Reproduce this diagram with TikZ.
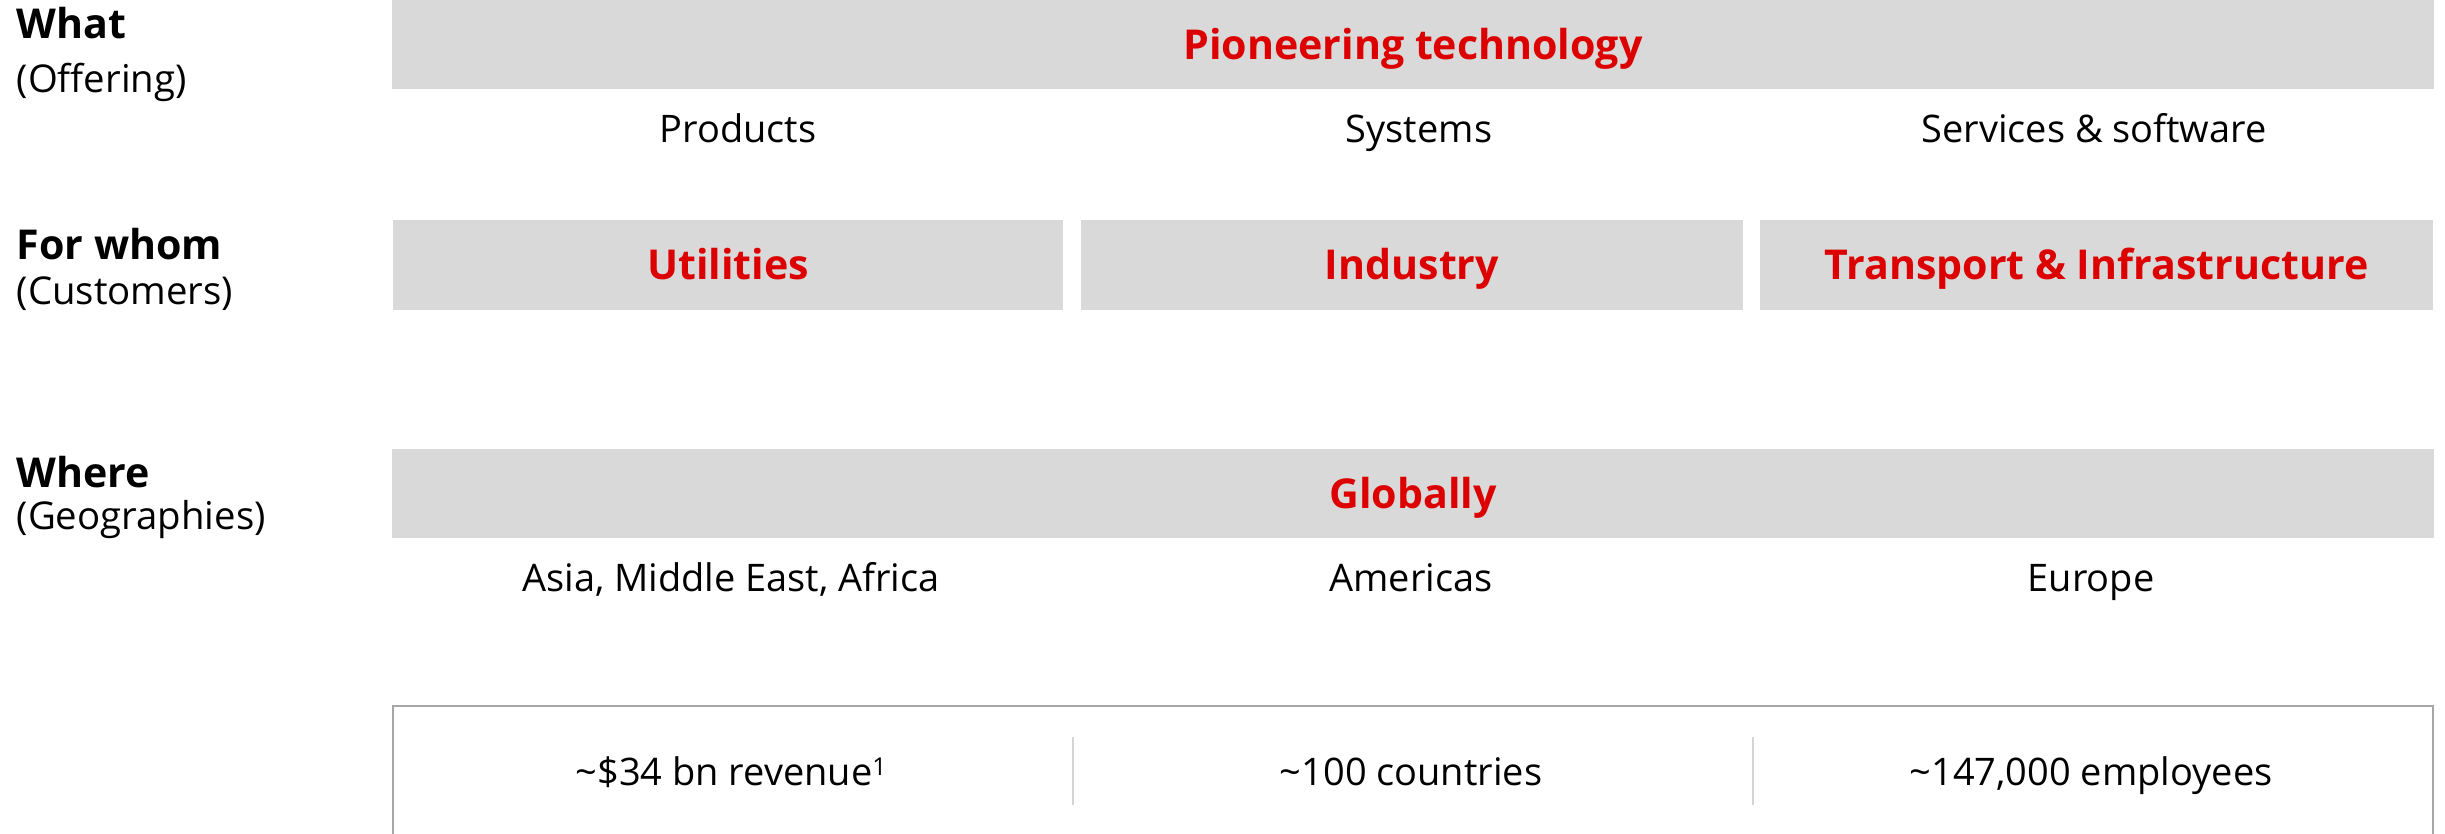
\documentclass[tikz,border=0pt]{standalone}
\usepackage{fontspec}
\setmainfont{Open Sans}
\definecolor{barGray}{HTML}{D9D9D9}
\definecolor{abbRed}{HTML}{DD0000}
\definecolor{boxGray}{HTML}{A6A6A6}
\definecolor{sepGray}{HTML}{D4D4D4}

\begin{document}
\begin{tikzpicture}[x=0.01cm, y=-0.01cm,
    bar/.style={fill=barGray,text=abbRed,inner sep=0,minimum height=0.89cm,
                text height=8.35pt,text depth=0pt,font=\fontsize{11.7}{13}\selectfont\bfseries},
    item/.style={inner sep=0,text height=7.7pt,text depth=0pt,font=\fontsize{10.8}{12}\selectfont},
    head/.style={inner sep=0,anchor=base west,font=\fontsize{11.7}{13}\selectfont\bfseries},
    sub/.style={inner sep=0,anchor=base west,font=\fontsize{10.9}{12}\selectfont}]

  \useasboundingbox (0,0) rectangle (2445,834);

  % row labels
  \node[head] (what) at (16,39) {What};
  \node[sub] (offering) at (16,93) {(Offering)};
  \node[head] (whom) at (16,260) {For whom};
  \node[sub] (customers) at (16,305) {(Customers)};
  \node[head] (where) at (16,488) {Where};
  \node[sub] (geo) at (16,530) {(Geographies)};

  % offering
  \node[bar,minimum width=20.4cm] (tech) at (1413,44.5) {Pioneering technology};
  \node[item] (products) at (738,129) {Products};
  \node[item] (systems) at (1419,129) {Systems};
  \node[item] (services) at (2094,129) {Services \& software};

  % customers
  \node[bar,minimum width=6.7cm] (util) at (728,265) {Utilities};
  \node[bar,minimum width=6.62cm] (industry) at (1412,265) {Industry};
  \node[bar,minimum width=6.73cm] (transport) at (2096.5,265) {Transport \& Infrastructure};

  % geographies
  \node[bar,minimum width=20.4cm] (global) at (1413,493.5) {Globally};
  \node[item] (asia) at (731,578) {Asia, Middle East, Africa};
  \node[item] (americas) at (1411,578) {Americas};
  \node[item] (europe) at (2091,578) {Europe};

  % key figures
  \coordinate (boxbl) at (393,834);
  \coordinate (boxtl) at (393,706);
  \coordinate (boxtr) at (2433,706);
  \coordinate (boxbr) at (2433,834);
  \draw[boxGray,line width=0.02cm] (boxbl) -- (boxtl) -- (boxtr) -- (boxbr);

  \node[item] (revenue) at (731,772) {\textasciitilde\$34 bn revenue{\fontsize{7}{8}\selectfont\raisebox{0.75ex}{1}}};
  \node[item] (countries) at (1411,772) {\textasciitilde100 countries};
  \node[item] (employees) at (2091,772) {\textasciitilde147,000 employees};

  \coordinate (sepa1) at (1073,737);
  \coordinate (sepa2) at (1073,805);
  \coordinate (sepb1) at (1753,737);
  \coordinate (sepb2) at (1753,805);
  \draw[sepGray,line width=0.02cm] (sepa1) -- (sepa2) (sepb1) -- (sepb2);

\end{tikzpicture}
\end{document}
